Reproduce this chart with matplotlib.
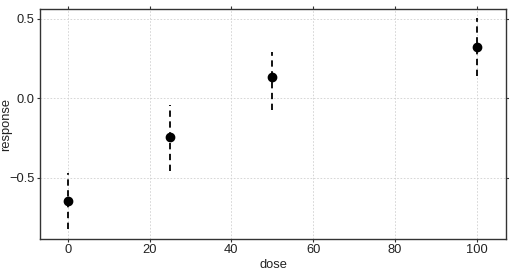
import matplotlib
matplotlib.use("Agg")
import matplotlib.pyplot as plt
import numpy as np

plt.rcParams['font.family'] = ['Liberation Sans', 'DejaVu Sans']

dose = [0, 25, 50, 100]
response = [-0.650, -0.247, 0.131, 0.323]
lower = [-0.823, -0.461, -0.073, 0.140]
upper = [-0.470, -0.041, 0.293, 0.505]
xticks = [0, 20, 40, 60, 80, 100]
yticks = [-0.5, 0.0, 0.5]

fig = plt.figure(figsize=(5.1, 2.73), dpi=100)
ax = fig.add_axes([0.0784, 0.1245, 0.9136, 0.8425])

resp = np.array(response)
yerr = [resp - np.array(lower), np.array(upper) - resp]
eb = ax.errorbar(dose, response, yerr=yerr, fmt='o', color='black', ms=6,
                 ecolor='black', elinewidth=1.3, capsize=0, zorder=3)
for lc in eb[2]:
    lc.set_linestyle((0, (3.5, 2.5)))

ax.set_xlim(-6.8, 107.1)
ax.set_ylim(-0.888, 0.563)
ax.set_xticks(xticks)
ax.set_yticks(yticks)
ax.set_yticklabels(['\u22120.5', '0.0', '0.5'])
ax.grid(True, color='#d0d0d0', linestyle=(0, (2, 2)), linewidth=0.6)
ax.set_axisbelow(True)
for s in ax.spines.values():
    s.set_color('#333333')
    s.set_linewidth(1.0)
ax.tick_params(axis='both', which='both', direction='out', length=2.3,
               color='#333333', labelsize=9.3, top=True, right=True,
               labeltop=False, labelright=False, pad=1.5, labelcolor='#222222')
ax.set_xlabel('dose', fontsize=9.3, color='#222222')
ax.set_ylabel('response', fontsize=9.3, color='#222222')
ax.xaxis.set_label_coords(0.5, -0.113)
ax.yaxis.set_label_coords(-0.073, 0.5)
ax.xaxis.label.set_va('center')
ax.yaxis.label.set_va('center')

fig.savefig('out.png', dpi=100)
